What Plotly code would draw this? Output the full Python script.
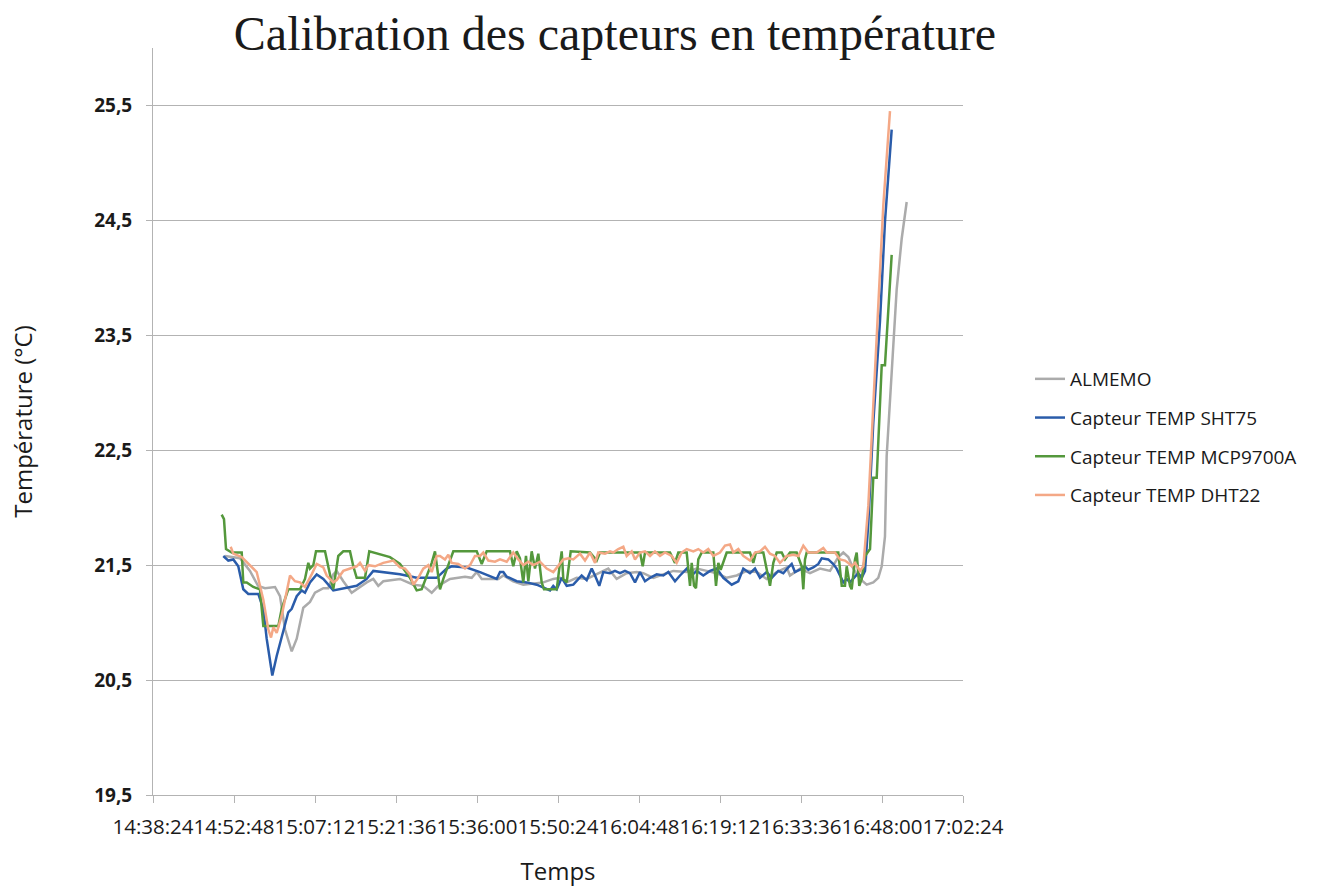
import pandas as pd
import plotly.graph_objects as go

# Start of the time axis; sample times are given in minutes after this instant
START = pd.Timestamp("2024-01-01 14:38:24")
AXIS_END = pd.Timestamp("2024-01-01 17:02:24")

# ALMEMO reference probe
almemo_min = [12.8, 15.47, 17.24, 18.67, 19.91, 21.69, 22.58, 23.47, 24.66, 25.55, 26.72, 27.91, 28.8,
              30.28, 31.16, 32.05, 32.66, 33.83, 35.32, 36.21, 37.99, 39.16, 40.05, 40.94, 43.91, 46.28,
              48.05, 49.55, 50.72, 52.8, 55.47, 56.66, 57.55, 58.44, 61.39, 62.28, 64.05, 65.83, 69.39,
              71.16, 72.36, 73.55, 75.32, 77.1, 78.88, 79.47, 80.94, 82.43, 84.21, 85.99, 87.16, 88.94,
              90.72, 92.5, 94.88, 96.66, 98.44, 100.21, 101.99, 103.77, 105.55, 107.32, 109.1, 110.88,
              112.66, 113.24, 115.02, 116.8, 118.58, 120.36, 121.83, 122.72, 123.61, 124.5, 125.69,
              126.88, 128.05, 128.94, 129.55, 130.13, 130.43, 131.32, 132.21, 133.1, 133.99]
almemo_val = [21.58, 21.56, 21.45, 21.32, 21.30, 21.31, 21.23, 20.94, 20.75, 20.86, 21.13, 21.18, 21.26,
              21.30, 21.30, 21.42, 21.45, 21.36, 21.26, 21.29, 21.35, 21.38, 21.32, 21.36, 21.38, 21.33,
              21.32, 21.26, 21.32, 21.38, 21.40, 21.39, 21.44, 21.38, 21.38, 21.41, 21.36, 21.33, 21.35,
              21.38, 21.39, 21.35, 21.39, 21.38, 21.42, 21.43, 21.47, 21.38, 21.43, 21.44, 21.43, 21.39,
              21.42, 21.45, 21.44, 21.47, 21.45, 21.43, 21.39, 21.41, 21.45, 21.44, 21.38, 21.44,
              21.48, 21.41, 21.47, 21.43, 21.47, 21.45, 21.57, 21.61, 21.57, 21.47, 21.38,
              21.33, 21.35, 21.39, 21.49, 21.75, 22.45, 23.18, 23.90, 24.34, 24.66]

# SHT75 sensor
sht75_min = [12.5, 13.39, 14.28, 15.16, 16.05, 16.94, 18.72, 19.61, 20.21, 21.21, 21.99, 23.16, 24.05,
             24.66, 25.55, 26.43, 27.02, 27.91, 29.1, 30.28, 32.05, 36.21, 37.99, 39.16, 43.91, 46.88,
             50.43, 52.21, 53.1, 55.77, 58.13, 61.1, 61.69, 62.28, 62.88, 64.66, 66.44, 68.21, 70.58,
             71.16, 71.77, 72.66, 73.55, 74.72, 76.21, 77.1, 77.99, 78.58, 79.34, 80.05, 81.24, 82.13,
             83.02, 83.91, 84.8, 85.69, 86.58, 87.47, 88.36, 89.55, 90.72, 91.61, 92.8, 93.69, 94.88,
             95.77, 96.66, 97.83, 99.02, 100.21, 101.39, 102.88, 104.05, 104.94, 106.13, 107.02, 107.91,
             109.1, 109.99, 111.16, 112.05, 112.94, 113.55, 114.13, 115.02, 115.91, 116.5, 117.39,
             118.28, 118.88, 120.05, 120.94, 121.54, 122.13, 122.72, 123.32, 123.91, 124.8, 125.39,
             125.99, 126.58, 127.17, 128.05, 129.24, 130.13, 131.32]
sht75_val = [21.58, 21.54, 21.55, 21.49, 21.29, 21.25, 21.25, 21.12, 20.86, 20.54, 20.71, 20.94, 21.09,
             21.12, 21.23, 21.28, 21.26, 21.35, 21.42, 21.38, 21.28, 21.32, 21.38, 21.45, 21.42, 21.39,
             21.39, 21.47, 21.49, 21.48, 21.44, 21.38, 21.44, 21.44, 21.40, 21.36, 21.35, 21.33, 21.28,
             21.32, 21.29, 21.39, 21.32, 21.33, 21.41, 21.37, 21.47, 21.41, 21.32, 21.44, 21.43, 21.45,
             21.43, 21.45, 21.43, 21.35, 21.44, 21.36, 21.39, 21.42, 21.41, 21.44, 21.36, 21.41, 21.47,
             21.41, 21.45, 21.41, 21.45, 21.47, 21.39, 21.33, 21.36, 21.47, 21.43, 21.47, 21.39,
             21.44, 21.39, 21.45, 21.43, 21.48, 21.51, 21.44, 21.46, 21.49, 21.46, 21.48,
             21.51, 21.56, 21.55, 21.51, 21.47, 21.41, 21.35, 21.38, 21.35, 21.40, 21.43,
             21.39, 21.45, 21.87, 22.74, 23.62, 24.49, 25.29]

# MCP9700A sensor
mcp_min = [12.21, 12.62, 12.98, 13.99, 15.77, 16.05, 16.66, 17.83, 19.02, 19.61, 22.28, 22.88, 24.05,
           26.13, 27.02, 27.61, 27.91, 28.5, 28.98, 30.58, 31.77, 32.05, 32.94, 33.83, 35.02, 35.61,
           36.21, 37.69, 38.45, 42.13, 43.91, 45.69, 46.88, 47.77, 49.55, 50.13, 50.43, 51.02, 51.61,
           53.39, 57.55, 58.44, 59.32, 63.47, 64.05, 64.66, 65.24, 65.83, 66.31, 66.72, 67.32, 67.91,
           68.5, 69.1, 69.51, 71.77, 72.23, 72.66, 72.94, 73.55, 74.26, 77.69, 78.88, 79.47, 86.58,
           87.06, 87.47, 91.91, 92.8, 93.39, 94.88, 95.47, 95.77, 96.18, 96.53, 96.94, 97.55, 99.61,
           100.09, 100.5, 100.92, 101.99, 106.13, 106.72, 107.2, 108.5, 109.69, 110.28, 110.88, 111.77,
           112.36, 113.24, 114.43, 115.32, 115.61, 115.91, 116.21, 121.83, 122.44, 123.02, 123.32,
           123.91, 124.21, 124.8, 125.1, 125.56, 125.99, 126.58, 127.47, 128.05, 128.66, 129.55,
           130.13, 130.72, 131.32]
mcp_val = [21.94, 21.90, 21.64, 21.61, 21.61, 21.35, 21.35, 21.31, 21.29, 20.97, 20.97, 21.12, 21.29,
           21.29, 21.38, 21.52, 21.47, 21.50, 21.62, 21.62, 21.35, 21.29, 21.58, 21.62, 21.62, 21.49,
           21.39, 21.39, 21.62, 21.57, 21.51, 21.39, 21.28, 21.29, 21.52, 21.62, 21.51, 21.29, 21.38,
           21.62, 21.62, 21.51, 21.62, 21.62, 21.49, 21.62, 21.56, 21.35, 21.58, 21.36, 21.62, 21.47,
           21.60, 21.35, 21.29, 21.29, 21.47, 21.62, 21.38, 21.35, 21.62, 21.61, 21.54, 21.61, 21.61,
           21.49, 21.61, 21.61, 21.52, 21.61, 21.61, 21.32, 21.52, 21.32, 21.30, 21.55, 21.61, 21.61,
           21.32, 21.52, 21.46, 21.61, 21.61, 21.52, 21.61, 21.61, 21.32, 21.52, 21.61, 21.61,
           21.55, 21.61, 21.61, 21.49, 21.29, 21.55, 21.61, 21.61, 21.32, 21.32, 21.49,
           21.32, 21.29, 21.55, 21.61, 21.32, 21.38, 21.58, 21.64, 22.26, 22.26, 23.24,
           23.24, 23.76, 24.20]

# DHT22 sensor
dht22_min = [13.81, 14.28, 15.77, 16.94, 18.44, 19.61, 20.5, 20.98, 21.39, 21.99, 22.88, 24.36, 25.24,
             26.13, 27.02, 28.21, 29.1, 30.28, 30.88, 32.05, 32.66, 33.83, 35.02, 36.21, 36.8, 37.69,
             38.28, 39.47, 40.94, 42.72, 43.91, 44.8, 45.69, 46.28, 47.16, 48.05, 48.94, 49.55, 50.43,
             51.02, 51.91, 52.5, 53.1, 54.28, 55.47, 56.36, 57.24, 58.13, 58.72, 59.61, 60.8, 61.69,
             62.88, 64.05, 64.94, 65.83, 66.72, 67.61, 68.8, 69.99, 71.16, 72.05, 72.94, 73.83, 74.72,
             75.91, 76.8, 77.69, 78.58, 79.17, 80.36, 81.24, 81.83, 82.72, 83.61, 84.21, 85.1, 85.69,
             86.58, 87.47, 88.36, 89.24, 90.13, 91.02, 92.21, 93.1, 93.99, 94.88, 96.06, 96.94, 97.83,
             98.72, 99.61, 100.8, 101.69, 102.58, 103.17, 104.06, 104.94, 106.13, 107.02, 107.91, 108.8,
             109.69, 110.58, 111.47, 112.66, 113.84, 114.72, 115.61, 116.5, 117.99, 119.17, 119.77,
             121.24, 122.13, 123.02, 123.61, 124.21, 124.8, 125.69, 126.28, 127.17, 128.05, 128.94,
             129.83, 131.02]
dht22_val = [21.66, 21.60, 21.57, 21.51, 21.44, 21.20, 20.94, 20.87, 20.96, 20.91, 21.06, 21.41, 21.36,
             21.35, 21.31, 21.42, 21.51, 21.48, 21.41, 21.35, 21.37, 21.45, 21.47, 21.49, 21.52, 21.45,
             21.50, 21.49, 21.52, 21.54, 21.48, 21.47, 21.42, 21.33, 21.39, 21.47, 21.50, 21.44, 21.58,
             21.58, 21.55, 21.59, 21.52, 21.51, 21.47, 21.50, 21.58, 21.58, 21.61, 21.54, 21.53, 21.55,
             21.53, 21.61, 21.55, 21.50, 21.53, 21.50, 21.53, 21.47, 21.44, 21.50, 21.55, 21.56, 21.55,
             21.60, 21.54, 21.61, 21.52, 21.61, 21.60, 21.62, 21.61, 21.64, 21.66, 21.58, 21.62, 21.55,
             21.61, 21.62, 21.58, 21.62, 21.58, 21.61, 21.58, 21.52, 21.61, 21.64, 21.62, 21.64, 21.61,
             21.64, 21.58, 21.61, 21.67, 21.68, 21.61, 21.64, 21.58, 21.54, 21.61, 21.62, 21.66,
             21.60, 21.58, 21.52, 21.58, 21.59, 21.58, 21.67, 21.61, 21.61, 21.65, 21.61,
             21.61, 21.55, 21.54, 21.52, 21.49, 21.52, 21.45, 21.49, 22.02, 22.89, 23.76,
             24.63, 25.45]

series = [
    ("ALMEMO", almemo_min, almemo_val, "#ABABAB"),
    ("Capteur TEMP SHT75", sht75_min, sht75_val, "#2A5CAA"),
    ("Capteur TEMP MCP9700A", mcp_min, mcp_val, "#54983C"),
    ("Capteur TEMP DHT22", dht22_min, dht22_val, "#F4A886"),
]

y_ticks = [19.5, 20.5, 21.5, 22.5, 23.5, 24.5, 25.5]

fig = go.Figure()
for name, mins, vals, color in series:
    t = START + pd.to_timedelta(mins, unit="min")
    fig.add_trace(go.Scatter(
        x=t, y=vals, mode="lines", name=name, legendgroup=name,
        line=dict(color=color, width=2.5),
    ))

grid = "#B3B3B3"
fig.update_layout(
    width=1342, height=887,
    margin=dict(l=153, r=379, t=48, b=92),
    paper_bgcolor="white", plot_bgcolor="white",
    separators=",.",
    title=dict(
        text="Calibration des capteurs en température",
        font=dict(family="Liberation Serif", size=48, color="#1a1a1a"),
        x=615 / 1342, xanchor="center", xref="container",
        y=1 - 33 / 887, yanchor="middle", yref="container",
    ),
    legend=dict(
        x=1030 / 1342, xref="container", xanchor="left",
        y=1 - 360 / 887, yref="container", yanchor="top",
        font=dict(family="Open Sans", size=19, color="#1a1a1a"),
        tracegroupgap=11, itemwidth=30,
        bgcolor="rgba(0,0,0,0)",
    ),
    showlegend=True,
)

fig.update_xaxes(
    type="date",
    range=[START, AXIS_END],
    tick0=START, dtick=864000, tickformat="%H:%M:%S",
    tickangle=0, automargin=False,
    showgrid=False, zeroline=False,
    showline=True, linecolor=grid, linewidth=1,
    ticks="outside", ticklen=7, tickcolor=grid,
    ticklabelstandoff=6,
    tickfont=dict(family="Open Sans", size=20.5, color="#1a1a1a"),
    title=dict(text="Temps", font=dict(family="Open Sans", size=24, color="#1a1a1a"), standoff=24),
)
fig.update_yaxes(
    range=[19.5, 26.0],
    tickvals=y_ticks, tickformat=".1f",
    automargin=False,
    showgrid=True, gridcolor=grid, gridwidth=1,
    zeroline=False,
    showline=True, linecolor=grid, linewidth=1,
    ticks="outside", ticklen=6, tickcolor=grid,
    ticklabelstandoff=10,
    tickfont=dict(family="Open Sans", size=19, color="#1a1a1a", weight="bold"),
    title=dict(text="Température (°C)", font=dict(family="Open Sans", size=24, color="#1a1a1a"), standoff=54),
)

fig.write_html("out.html")
